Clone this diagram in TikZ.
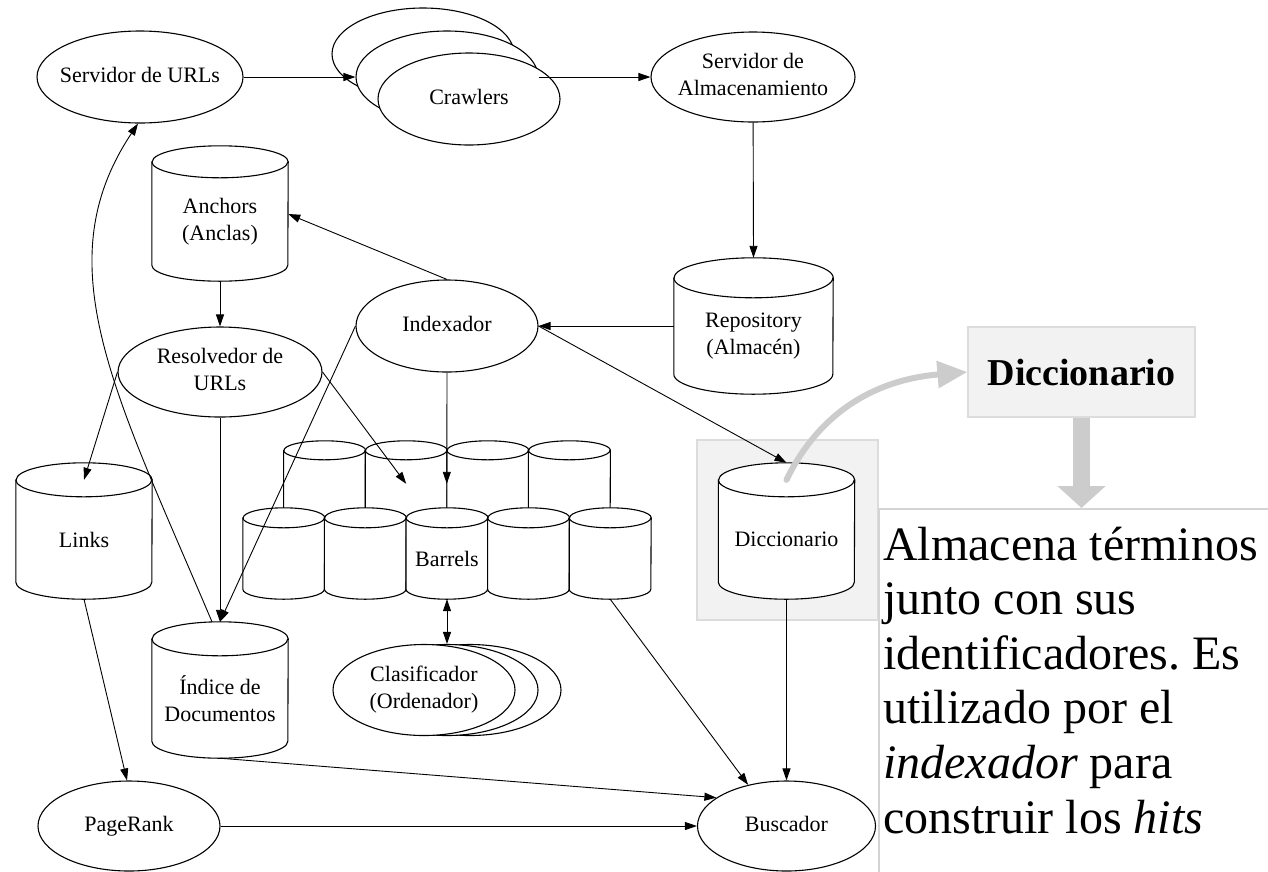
\documentclass[tikz,border=0pt]{standalone}
\usepackage{fontspec}
\setmainfont{Liberation Serif}
\usetikzlibrary{shapes.geometric,arrows.meta,calc}
\frenchspacing

\definecolor{hintgray}{HTML}{CCCCCC}
\definecolor{boxfill}{HTML}{F2F2F2}
\definecolor{boxline}{HTML}{DCDCDC}
\definecolor{frameline}{HTML}{D4D4D4}

\pgfdeclarelayer{panel}
\pgfdeclarelayer{cyl}
\pgfsetlayers{panel,cyl,main}

\newcommand\diagfont{\fontsize{22}{27}\selectfont}
% centred text of zero width, so that it does not widen the ellipse
\newcommand\lines[1]{\makebox[0pt]{\begin{tabular}{@{}c@{}}#1\end{tabular}}}
% storage node: name, centre x, top, bottom, half width, cap radius, text
\newcommand\cylnode[7]{%
  \node[storebox, minimum width={2*#5*1pt}, minimum height={(#4-#3-#6)*1pt}]
    (#1) at (#2,{(#3+#4+#6)/2}) {#7};}
% outline of a storage node: name, half width, cap radius
\newcommand\cylshape[3]{%
  \draw[shape line] (#1.north west) -- ([yshift=#3pt]#1.south west)
    arc[start angle=180,end angle=360,x radius=#2pt,y radius=#3pt]
    -- (#1.north east)
    arc[start angle=0,end angle=180,x radius=#2pt,y radius=#3pt] -- cycle;
  \draw[shape line, fill=none] (#1.north west)
    arc[start angle=180,end angle=360,x radius=#2pt,y radius=#3pt];}

\tikzset{
  shape line/.style={line width=1.1pt, draw=black, fill=white},
  proc/.style={ellipse, shape line, inner sep=0pt, font=\diagfont},
  storebox/.style={rectangle, draw=none, inner sep=0pt, font=\diagfont, align=center},
  flow/.style={line width=0.9pt, -{Triangle[length=12pt,width=8pt]}},
  both flow/.style={line width=0.9pt, {Triangle[length=12pt,width=8pt]}-{Triangle[length=12pt,width=8pt]}},
  hint/.style={draw=hintgray, line width=6pt, line cap=round, -{Triangle[length=30pt,width=26pt]}},
  label box/.style={rectangle, draw=boxline, fill=boxfill, line width=1.2pt, inner sep=0pt},
  frame box/.style={rectangle, draw=frameline, line width=1.5pt, inner sep=0pt},
}

\begin{document}
\begin{tikzpicture}[x=1pt,y=-1pt]
\useasboundingbox (0,0) rectangle (1268,871);

% ---------- processes ----------
\node[proc, minimum width=206pt, minimum height=92pt] (surl) at (140,77) {\lines{Servidor de URLs}};
\node[proc, minimum width=182pt, minimum height=92pt] (crawl3) at (423,54) {};
\node[proc, minimum width=182pt, minimum height=92pt] (crawl2) at (447,77) {};
\node[proc, minimum width=182pt, minimum height=92pt] (crawl1) at (469,99) {\lines{Crawlers}};
\node[proc, minimum width=204pt, minimum height=90pt] (salm) at (753,77) {\lines{Servidor de\\Almacenamiento}};
\node[proc, minimum width=182pt, minimum height=92pt] (idx) at (447,326) {\lines{Indexador}};
\node[proc, minimum width=204pt, minimum height=90pt] (res) at (220,372) {\lines{Resolvedor de\\URLs}};
\node[proc, minimum width=182pt, minimum height=91pt] (clas3) at (470,690) {};
\node[proc, minimum width=182pt, minimum height=91pt] (clas2) at (447,690) {};
\node[proc, minimum width=182pt, minimum height=91pt] (clas1) at (424,690) {\lines{Clasificador\\(Ordenador)}};
\node[proc, minimum width=182pt, minimum height=90pt] (prank) at (129,826) {\lines{PageRank}};
\node[proc, minimum width=178pt, minimum height=90pt] (busc) at (786.5,826) {\lines{Buscador}};

% ---------- storage ----------
\cylnode{anch}{220}{146}{281}{68}{16}{Anchors\\(Anclas)}
\cylnode{repo}{753.5}{258}{394}{79.5}{20}{Repository\\(Almacén)}
\cylnode{links}{84}{463}{599}{68}{17}{Links}
\cylnode{indice}{220}{622}{758}{68}{17}{Índice de\\Documentos}
\cylnode{dicc}{786.5}{463}{599}{68}{17}{Diccionario}
% barrels: back row of four, front row of five
\cylnode{bk1}{324.6}{441}{560}{40.8}{9.5}{}
\cylnode{bk2}{406.2}{441}{560}{40.8}{9.5}{}
\cylnode{bk3}{487.8}{441}{560}{40.8}{9.5}{}
\cylnode{bk4}{569.4}{441}{560}{40.8}{9.5}{}
\cylnode{bar1}{283.8}{508}{599}{40.8}{10}{}
\cylnode{bar2}{365.4}{508}{599}{40.8}{10}{}
\cylnode{bar3}{447}{508}{599}{40.8}{10}{Barrels}
\cylnode{bar4}{528.6}{508}{599}{40.8}{10}{}
\cylnode{bar5}{610.2}{508}{599}{40.8}{10}{}

\begin{pgfonlayer}{cyl}
  \cylshape{anch}{68}{16}
  \cylshape{repo}{79.5}{20}
  \cylshape{links}{68}{17}
  \cylshape{indice}{68}{17}
  \cylshape{dicc}{68}{17}
  \foreach \n in {bk1,bk2,bk3,bk4} {\cylshape{\n}{40.8}{9.5}}
  \foreach \n in {bar1,bar2,bar3,bar4,bar5} {\cylshape{\n}{40.8}{10}}
\end{pgfonlayer}

% ---------- highlight panel, callout and description ----------
\begin{pgfonlayer}{panel}
  \node[label box, minimum width=181pt, minimum height=180pt] (dpanel) at (787.5,530) {};
\end{pgfonlayer}
\node[label box, minimum width=227pt, minimum height=90pt,
      font=\fontsize{38}{44}\selectfont\bfseries] (dbox) at (1081.5,372) {Diccionario};
\node[frame box, anchor=north west, minimum width=430pt, minimum height=420pt] (descframe) at (878,508) {};
\node[anchor=base west, inner sep=0pt, font=\fontsize{48}{54.6}\selectfont] (desc) at (883,560)
  {\begin{tabular}[t]{@{}l@{}}
   Almacena términos\\
   junto con sus\\
   identificadores. Es\\
   utilizado por el\\
   \textit{indexador} para\\
   construir los \textit{hits}
   \end{tabular}};

% ---------- connectors ----------
\draw[flow] (surl) -- (crawl2);
\draw[flow] (crawl2) -- (salm);
\draw[flow] (salm) -- ([yshift=20pt]repo.north);
\draw[flow] (idx -| repo.west) -- (idx);
\draw[flow] (idx.north) -- ([yshift=7.5pt]anch.east);
\draw[flow] (anch.south) -- (res);
\draw[flow] (res.west) -- (links.north);
\draw[flow] (res.east) -- ([yshift=-33.5pt]bk2.north);
\draw[flow] (idx.south) -- ([yshift=-33.5pt]bk3.north west);
\draw[flow] (idx.west) -- ([yshift=17pt]indice.north);
\draw[flow] (res) -- ([yshift=17pt]indice.north);
\draw[flow] (idx.east) -- ([yshift=17pt]dicc.north);
\draw[flow] ([xshift=-8pt,yshift=17pt]indice.north)
  .. controls (114.5,392) and (44.5,264) .. ([xshift=-2pt]surl.south);
\draw[flow] (links.south) -- ([xshift=-2pt]prank.north);
\draw[flow] (prank) -- (busc);
\draw[flow] (indice.south) -- (busc.158);
\draw[flow] (bar5.south) -- (busc.133);
\draw[flow] (dicc.south) -- (busc);
\draw[both flow] (bar3.south) -- (clas2.north);

% ---------- callout arrows ----------
\draw[hint] (dicc.north) .. controls (818,415) and (872,380) .. (dbox.west);
\draw[hint, line width=17pt, line cap=butt, -{Triangle[length=22pt,width=47pt]}]
  (dbox.south) -- (dbox.south |- descframe.north);
\end{tikzpicture}
\end{document}
